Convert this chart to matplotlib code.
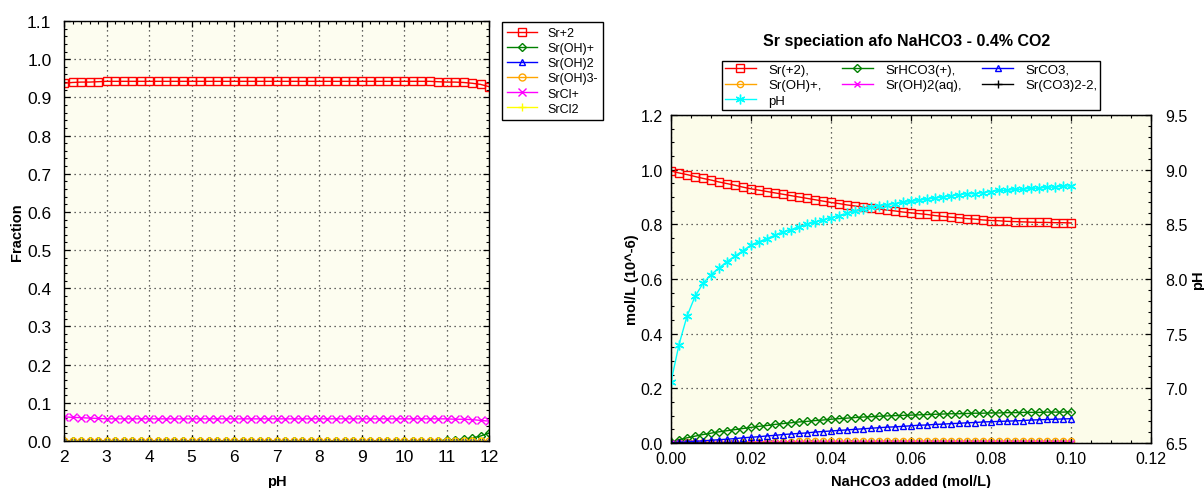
import matplotlib

matplotlib.use("Agg")
import matplotlib.pyplot as plt
import numpy as np
from matplotlib.ticker import FormatStrFormatter, MultipleLocator

plt.rcParams["font.family"] = ["Liberation Sans", "DejaVu Sans"]

# ---- left panel: fraction vs pH ----
ph_grid = np.linspace(2, 12, 51)

frac_sr2 = [
    0.937, 0.939, 0.940, 0.940, 0.941, 0.942, 0.942, 0.942, 0.942, 0.942,
    0.942, 0.942, 0.942, 0.942, 0.942, 0.942, 0.942, 0.942, 0.942, 0.942,
    0.942, 0.942, 0.942, 0.942, 0.942, 0.942, 0.942, 0.942, 0.942, 0.942,
    0.942, 0.942, 0.942, 0.942, 0.942, 0.942, 0.942, 0.942, 0.942, 0.942,
    0.942, 0.942, 0.942, 0.942, 0.941, 0.940, 0.940, 0.939, 0.937, 0.934,
    0.928,
]
frac_sroh = [
    0.0, 0.0, 0.0, 0.0, 0.0, 0.0, 0.0, 0.0, 0.0, 0.0,
    0.0, 0.0, 0.0, 0.0, 0.0, 0.0, 0.0, 0.0, 0.0, 0.0,
    0.0, 0.0, 0.0, 0.0, 0.0, 0.0, 0.0, 0.0, 0.0, 0.0,
    0.0, 0.0, 0.0, 0.0, 0.0, 0.0, 0.0, 0.0, 0.0, 0.0,
    0.0, 0.0003, 0.0005, 0.0008, 0.0012, 0.002, 0.003, 0.005, 0.008, 0.013,
    0.021,
]
frac_sroh2 = [
    0.0, 0.0, 0.0, 0.0, 0.0, 0.0, 0.0, 0.0, 0.0, 0.0,
    0.0, 0.0, 0.0, 0.0, 0.0, 0.0, 0.0, 0.0, 0.0, 0.0,
    0.0, 0.0, 0.0, 0.0, 0.0, 0.0, 0.0, 0.0, 0.0, 0.0,
    0.0, 0.0, 0.0, 0.0, 0.0, 0.0, 0.0, 0.0, 0.0, 0.0,
    0.0, 0.0, 0.0, 0.0, 0.0, 0.0, 0.0, 0.0001, 0.0002, 0.0005,
    0.001,
]
frac_sroh3 = [
    0.0, 0.0, 0.0, 0.0, 0.0, 0.0, 0.0, 0.0, 0.0, 0.0,
    0.0, 0.0, 0.0, 0.0, 0.0, 0.0, 0.0, 0.0, 0.0, 0.0,
    0.0, 0.0, 0.0, 0.0, 0.0, 0.0, 0.0, 0.0, 0.0, 0.0,
    0.0, 0.0, 0.0, 0.0, 0.0, 0.0, 0.0, 0.0, 0.0, 0.0,
    0.0, 0.0, 0.0, 0.0, 0.0, 0.0, 0.0, 0.0, 0.0, 0.0,
    0.0,
]
frac_srcl = [
    0.063, 0.062, 0.061, 0.060, 0.059, 0.058, 0.058, 0.058, 0.058, 0.058,
    0.058, 0.058, 0.058, 0.058, 0.058, 0.058, 0.058, 0.058, 0.058, 0.058,
    0.058, 0.058, 0.058, 0.058, 0.058, 0.058, 0.058, 0.058, 0.058, 0.058,
    0.058, 0.058, 0.058, 0.058, 0.058, 0.058, 0.058, 0.058, 0.058, 0.058,
    0.058, 0.058, 0.058, 0.058, 0.058, 0.058, 0.057, 0.057, 0.056, 0.054,
    0.052,
]
frac_srcl2 = [
    0.0004, 0.0004, 0.0004, 0.0004, 0.0004, 0.0004, 0.0004, 0.0004, 0.0004, 0.0004,
    0.0004, 0.0004, 0.0004, 0.0004, 0.0004, 0.0004, 0.0004, 0.0004, 0.0004, 0.0004,
    0.0004, 0.0004, 0.0004, 0.0004, 0.0004, 0.0004, 0.0004, 0.0004, 0.0004, 0.0004,
    0.0004, 0.0004, 0.0004, 0.0004, 0.0004, 0.0004, 0.0004, 0.0004, 0.0004, 0.0004,
    0.0004, 0.0004, 0.0004, 0.0004, 0.0004, 0.0004, 0.0004, 0.0004, 0.0004, 0.0004,
    0.0004,
]

# ---- right panel: mol/L (10^-6) vs NaHCO3 added ----
nahco3 = np.linspace(0.0, 0.1, 51)

conc_sr2 = [
    0.995, 0.988, 0.982, 0.975, 0.968, 0.962, 0.955, 0.949, 0.943, 0.936,
    0.930, 0.925, 0.920, 0.915, 0.910, 0.905, 0.900, 0.895, 0.890, 0.885,
    0.880, 0.876, 0.871, 0.867, 0.863, 0.859, 0.856, 0.852, 0.849, 0.845,
    0.842, 0.839, 0.836, 0.832, 0.829, 0.826, 0.824, 0.821, 0.819, 0.816,
    0.814, 0.813, 0.811, 0.810, 0.809, 0.808, 0.807, 0.807, 0.806, 0.806,
    0.805,
]
conc_srhco3 = [
    0.005, 0.012, 0.019, 0.025, 0.031, 0.036, 0.041, 0.045, 0.049, 0.053,
    0.057, 0.061, 0.064, 0.068, 0.071, 0.074, 0.077, 0.079, 0.082, 0.084,
    0.087, 0.089, 0.091, 0.093, 0.095, 0.096, 0.098, 0.099, 0.100, 0.101,
    0.102, 0.103, 0.104, 0.105, 0.106, 0.107, 0.107, 0.108, 0.109, 0.109,
    0.110, 0.110, 0.111, 0.111, 0.112, 0.112, 0.112, 0.113, 0.113, 0.113,
    0.114,
]
conc_srco3 = [
    0.001, 0.002, 0.004, 0.006, 0.008, 0.010, 0.012, 0.014, 0.016, 0.019,
    0.021, 0.023, 0.026, 0.028, 0.031, 0.033, 0.035, 0.037, 0.040, 0.042,
    0.044, 0.046, 0.048, 0.050, 0.052, 0.054, 0.056, 0.058, 0.059, 0.061,
    0.063, 0.065, 0.066, 0.068, 0.069, 0.071, 0.072, 0.074, 0.075, 0.077,
    0.078, 0.079, 0.080, 0.081, 0.082, 0.084, 0.085, 0.086, 0.087, 0.088,
    0.089,
]
conc_sroh = [
    0.001, 0.002, 0.002, 0.003, 0.003, 0.003, 0.004, 0.004, 0.004, 0.004,
    0.005, 0.005, 0.005, 0.005, 0.005, 0.005, 0.006, 0.006, 0.006, 0.006,
    0.006, 0.006, 0.006, 0.006, 0.006, 0.006, 0.007, 0.007, 0.007, 0.007,
    0.007, 0.007, 0.007, 0.007, 0.007, 0.007, 0.007, 0.007, 0.007, 0.007,
    0.007, 0.007, 0.007, 0.007, 0.007, 0.007, 0.007, 0.007, 0.007, 0.007,
    0.007,
]
conc_sroh2 = [
    0.0, 0.0, 0.0, 0.0, 0.0, 0.0, 0.0, 0.0, 0.0, 0.0,
    0.0, 0.0, 0.0, 0.0, 0.0, 0.0, 0.0, 0.0, 0.0, 0.0,
    0.0, 0.0, 0.0, 0.0, 0.0, 0.0, 0.0, 0.0, 0.0, 0.0,
    0.0, 0.0, 0.0, 0.0, 0.0, 0.0, 0.0, 0.0, 0.0, 0.0,
    0.0, 0.0, 0.0, 0.0, 0.0, 0.0, 0.0, 0.0, 0.0, 0.0,
    0.0,
]
conc_srco3_2 = [
    0.0, 0.0, 0.0, 0.0, 0.0, 0.0, 0.0, 0.0, 0.0, 0.0,
    0.0, 0.0, 0.0, 0.0, 0.0, 0.0001, 0.0001, 0.0001, 0.0001, 0.0001,
    0.0002, 0.0002, 0.0002, 0.0002, 0.0003, 0.0003, 0.0003, 0.0004, 0.0004, 0.0004,
    0.0005, 0.0005, 0.0005, 0.0006, 0.0006, 0.0006, 0.0007, 0.0007, 0.0007, 0.0008,
    0.0008, 0.0008, 0.0009, 0.0009, 0.0009, 0.0010, 0.0010, 0.0010, 0.0011, 0.0011,
    0.0011,
]
ph_curve = [
    7.06, 7.40, 7.66, 7.84, 7.96, 8.04, 8.10, 8.16, 8.21, 8.26,
    8.31, 8.34, 8.37, 8.40, 8.43, 8.45, 8.48, 8.50, 8.52, 8.54,
    8.56, 8.58, 8.60, 8.62, 8.64, 8.66, 8.67, 8.68, 8.69, 8.70,
    8.71, 8.72, 8.73, 8.74, 8.75, 8.76, 8.77, 8.78, 8.78, 8.79,
    8.80, 8.81, 8.81, 8.82, 8.82, 8.83, 8.83, 8.84, 8.84, 8.85,
    8.85,
]

ASTERISK = (6, 2, 0)
W, H = 1204, 489


def style_axes(ax, facecolor, labelsize):
    ax.set_facecolor(facecolor)
    ax.grid(True, which="major", linestyle=(0, (1, 3)), color="#333333", linewidth=0.9)
    ax.tick_params(which="both", direction="in", labelsize=labelsize, colors="black")
    ax.tick_params(which="major", length=4, width=0.9)
    ax.tick_params(which="minor", length=2.5, width=0.8)
    for sp in ax.spines.values():
        sp.set_color("black")
        sp.set_linewidth(1.0)


fig = plt.figure(figsize=(W / 100, H / 100), dpi=100)

# left panel
ax1 = fig.add_axes([64 / W, 47 / H, 425 / W, 420 / H])
style_axes(ax1, "#fdfdf0", 12.5)
left_series = [
    ("Sr+2", frac_sr2, "#ff0000", "s", 6.0),
    ("Sr(OH)+", frac_sroh, "#008000", "D", 4.0),
    ("Sr(OH)2", frac_sroh2, "#0000ff", "^", 5.0),
    ("Sr(OH)3-", frac_sroh3, "#ffa500", "o", 5.0),
    ("SrCl+", frac_srcl, "#ff00ff", "x", 5.5),
    ("SrCl2", frac_srcl2, "#ffff00", "+", 6.0),
]
for label, vals, col, mk, ms in left_series:
    ax1.plot(ph_grid, vals, color=col, marker=mk, ms=ms, mfc="none", mec=col,
             mew=1.0, lw=1.0, label=label)
ax1.set_xlim(2, 12)
ax1.set_ylim(0, 1.1)
ax1.xaxis.set_major_locator(MultipleLocator(1))
ax1.xaxis.set_minor_locator(MultipleLocator(0.2))
ax1.yaxis.set_major_locator(MultipleLocator(0.1))
ax1.yaxis.set_minor_locator(MultipleLocator(0.02))
ax1.yaxis.set_major_formatter(FormatStrFormatter("%.1f"))
ax1.tick_params(which="both", top=True, right=True)
ax1.tick_params(axis="x", which="major", pad=6)
ax1.tick_params(axis="y", which="major", pad=9)
ax1.set_xlabel("pH", fontsize=10.5, fontweight="bold")
ax1.set_ylabel("Fraction", fontsize=10.5, fontweight="bold")
ax1.xaxis.set_label_coords(0.5, -0.079)
ax1.yaxis.set_label_coords(-0.094, 0.5)
fig.legend(
    handles=ax1.get_lines(),
    loc="upper left",
    bbox_to_anchor=(502 / W, 1 - 23 / H),
    borderaxespad=0,
    fontsize=9,
    frameon=True,
    fancybox=False,
    edgecolor="black",
    framealpha=1,
    labelspacing=0.25,
    handlelength=2.4,
    borderpad=0.4,
)

# right panel
ax2 = fig.add_axes([671 / W, 45 / H, 480 / W, 328 / H])
style_axes(ax2, "#fcfcea", 11.5)
right_series = [
    ("Sr(+2),", conc_sr2, "#ff0000", "s", 5.5),
    ("Sr(OH)+,", conc_sroh, "#ffa500", "o", 4.5),
    ("SrHCO3(+),", conc_srhco3, "#008000", "D", 4.0),
    ("Sr(OH)2(aq),", conc_sroh2, "#ff00ff", "x", 5.0),
    ("SrCO3,", conc_srco3, "#0000ff", "^", 5.0),
    ("Sr(CO3)2-2,", conc_srco3_2, "#000000", "+", 5.5),
]
handles = {}
for label, vals, col, mk, ms in right_series:
    (ln,) = ax2.plot(nahco3, vals, color=col, marker=mk, ms=ms, mfc="none", mec=col,
                     mew=1.0, lw=1.0, label=label)
    handles[label] = ln
ax2.set_xlim(0, 0.12)
ax2.set_ylim(0, 1.2)
ax2.xaxis.set_major_locator(MultipleLocator(0.02))
ax2.xaxis.set_minor_locator(MultipleLocator(0.005))
ax2.yaxis.set_major_locator(MultipleLocator(0.2))
ax2.yaxis.set_minor_locator(MultipleLocator(0.05))
ax2.xaxis.set_major_formatter(FormatStrFormatter("%.2f"))
ax2.yaxis.set_major_formatter(FormatStrFormatter("%.1f"))
ax2.tick_params(which="both", top=True, right=False)
ax2.tick_params(axis="x", which="major", pad=6)
ax2.tick_params(axis="y", which="major", pad=6)
ax2.set_xlabel("NaHCO3 added (mol/L)", fontsize=10.5, fontweight="bold")
ax2.set_ylabel("mol/L (10^-6)", fontsize=10.5, fontweight="bold")
ax2.xaxis.set_label_coords(0.5, -0.094)
ax2.yaxis.set_label_coords(-0.066, 0.5)

ax3 = ax2.twinx()
(ph_line,) = ax3.plot(nahco3, ph_curve, color="#00ffff", marker=ASTERISK, ms=7,
                      mew=1.0, lw=1.0, label="pH")
ax3.set_ylim(6.5, 9.5)
ax3.yaxis.set_major_locator(MultipleLocator(0.5))
ax3.yaxis.set_minor_locator(MultipleLocator(0.1))
ax3.yaxis.set_major_formatter(FormatStrFormatter("%.1f"))
ax3.tick_params(which="both", direction="in", labelsize=11.5, colors="black")
ax3.tick_params(which="major", length=4, width=0.9, pad=10)
ax3.tick_params(which="minor", length=2.5, width=0.8)
ax3.set_ylabel("pH", fontsize=10.5, fontweight="bold")
ax3.yaxis.set_label_coords(1.083, 0.5)

order = ["Sr(+2),", "Sr(OH)+,", None, "SrHCO3(+),", "Sr(OH)2(aq),", "SrCO3,", "Sr(CO3)2-2,"]
leg_handles = [ph_line if k is None else handles[k] for k in order]
fig.legend(
    handles=leg_handles,
    ncol=3,
    loc="upper left",
    bbox_to_anchor=(722 / W, 1 - 62 / H, 378 / W, 0.0),
    borderaxespad=0,
    mode="expand",
    fontsize=9.5,
    frameon=True,
    fancybox=False,
    edgecolor="black",
    framealpha=1,
    labelspacing=0.25,
    handlelength=2.4,
    handletextpad=0.9,
    borderpad=0.2,
)

fig.text(907 / W, 1 - 42 / H, "Sr speciation afo NaHCO3 - 0.4% CO2",
         ha="center", va="center", fontsize=11.5, fontweight="bold")

fig.savefig("out.png", dpi=100)
